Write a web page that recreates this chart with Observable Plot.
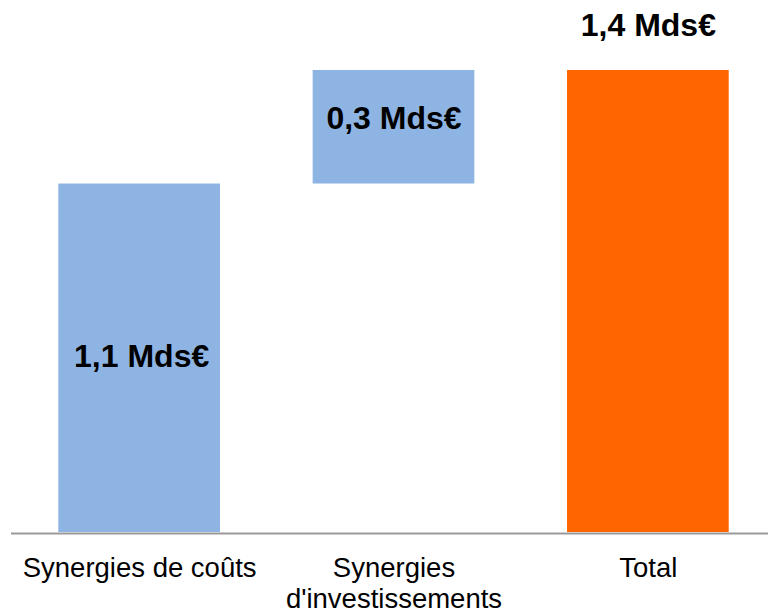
<!DOCTYPE html>
<html><head><meta charset="utf-8">
<script src="https://cdn.jsdelivr.net/npm/d3@7"></script>
<script src="https://cdn.jsdelivr.net/npm/@observablehq/plot@0.6"></script>
<style>
body{margin:0;background:#fff}
svg{display:block}
svg, svg text{font-family:"Liberation Sans", Arial, Helvetica, sans-serif !important}
</style>
</head><body><div id="chart"></div>
<script>
const categories = ["Synergies de coûts", "Synergies\nd'investissements", "Total"];
const increments = [1.056, 0.344];
const total = 1.4;
const valueLabels = ["1,1 Mds€", "0,3 Mds€", "1,4 Mds€"];
const barColors = ["#8EB4E3", "#8EB4E3", "#FF6600"];

let cum = 0;
const rows = categories.map((c, i) => {
  let y1, y2;
  if (i < increments.length) { y1 = cum; y2 = cum + increments[i]; cum = y2; }
  else { y1 = 0; y2 = total; }
  return {cat: c, y1, y2, mid: (y1 + y2) / 2, label: valueLabels[i], color: barColors[i], i};
});

const labelStyle = {fontSize: 32, fontWeight: "bold", fill: "#000", text: "label", x: "cat"};

const chart = Plot.plot({
  width: 768, height: 609,
  marginLeft: 11, marginRight: 0, marginTop: 70, marginBottom: 77,
  style: {background: "#fff"},
  x: {domain: categories, range: [12, 775], paddingInner: 0.3643, paddingOuter: 0.182, round: false, axis: null},
  y: {domain: [0, 1.4], range: [532, 70], axis: null},
  marks: [
    Plot.barY(rows, {x: "cat", y1: "y1", y2: "y2", fill: "color"}),
    Plot.ruleY([0], {stroke: "#999", strokeWidth: 2, dy: 1}),
    Plot.text(rows.filter(d => d.i === 0), {...labelStyle, y: "mid", dy: -1.3, dx: 2}),
    Plot.text(rows.filter(d => d.i === 1), {...labelStyle, y: "mid", dy: -8.7}),
    Plot.text(rows.filter(d => d.i === 2), {...labelStyle, y: "y2", dy: -45}),
    Plot.text(categories, {x: d => d, y: () => 0, lineAnchor: "top", dy: 22, fontSize: 27.5, lineHeight: 1.13, fill: "#000"})
  ]
});
document.getElementById("chart").appendChild(chart);
</script>
</body></html>
